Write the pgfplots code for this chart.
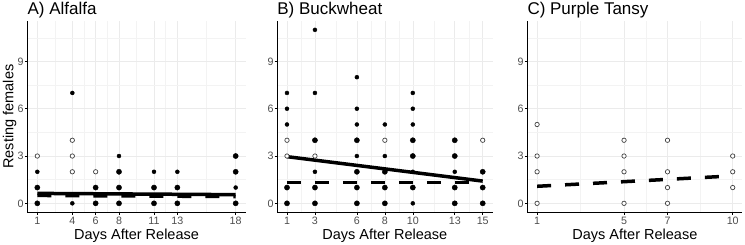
\documentclass[border=0pt]{standalone}
\usepackage{fontspec}
\setmainfont{Liberation Sans}
\usepackage{pgfplots}
\pgfplotsset{compat=1.18}
\definecolor{tickgray}{HTML}{4D4D4D}
\definecolor{gridmaj}{HTML}{EBEBEB}
\definecolor{gridmin}{HTML}{F3F3F3}
\pgfplotsset{
  panel/.style={
    scale only axis, height=190.8pt,
    ymin=-0.55, ymax=11.55,
    ytick={0,3,6,9}, minor ytick={1.5,4.5,7.5,10.5},
    axis x line*=bottom, axis y line*=left,
    axis line style={black, line width=0.8pt, -},
    grid=both,
    major grid style={gridmaj, line width=0.6pt},
    minor grid style={gridmin, line width=0.4pt},
    tick style={black, line width=0.6pt},
    major tick length=2.5pt, minor tick length=0pt,
    tick align=outside,
    tick label style={font=\fontsize{10.7}{12}\selectfont, text=tickgray, inner sep=1pt},
    xticklabel style={yshift=-1.2pt},
    /pgf/number format/assume math mode=true,
    clip=false,
  },
  fnorm/.style={only marks, mark=*, mark size=2pt, black, mark options={draw=black, fill=black}},
  fbold/.style={only marks, mark=*, mark size=2.6pt, black, mark options={draw=black, fill=black}},
  opn/.style={only marks, mark=*, mark size=2.2pt, mark options={draw=black!75, fill=white, line width=0.7pt}},
  solidfit/.style={black, line width=3.5pt, line cap=butt},
  dashfit/.style={black, line width=3.5pt, line cap=butt, dash pattern=on 14pt off 14pt},
}
\begin{document}
\begin{tikzpicture}
\useasboundingbox (0,0) rectangle (745pt,244pt);
% Panel A
\begin{axis}[panel, name=A, at={(27.4pt,32pt)}, anchor=south west, width=218.2pt,
  xmin=0.15, xmax=18.85, xtick={1,4,6,8,11,13,18}, minor xtick={2.5,5,7,9.5,12,15.5}]
\addplot[fnorm] coordinates {(1,2) (4,0) (4,7) (8,3) (11,2) (13,2) (18,1)};
\addplot[fbold] coordinates {(1,0) (1,1) (6,0) (6,1) (8,0) (8,1) (8,2) (11,0) (11,1) (13,0) (13,1) (18,0) (18,2) (18,3)};
\addplot[opn] coordinates {(1,3) (4,2) (4,3) (4,4) (6,2)};
\addplot[solidfit] coordinates {(1,0.63) (18,0.55)};
\addplot[dashfit] coordinates {(1,0.50) (18,0.43)};
\end{axis}
% Panel B
\begin{axis}[panel, name=B, at={(277.2pt,32pt)}, anchor=south west, width=215.3pt,
  xmin=0.3, xmax=15.7, xtick={1,3,6,8,10,13,15}, minor xtick={2,4.5,7,9,11.5,14}]
\addplot[fnorm] coordinates {(1,5) (1,6) (1,7) (3,2) (3,7) (3,11) (6,3) (6,5) (6,6) (6,8) (8,3) (8,5) (10,0) (10,2) (10,5) (10,6) (10,7) (13,2)};
\addplot[fbold] coordinates {(1,0) (1,1) (3,0) (3,1) (3,4) (6,0) (6,1) (6,2) (6,4) (8,0) (8,1) (8,2) (10,1) (10,3) (10,4) (13,0) (13,1) (13,3) (13,4) (15,0) (15,1) (15,2)};
\addplot[opn] coordinates {(1,3) (1,4) (3,3) (8,4) (15,4)};
\addplot[solidfit] coordinates {(1,2.96) (15,1.41)};
\addplot[dashfit] coordinates {(1,1.31) (15,1.31)};
\end{axis}
% Panel C
\begin{axis}[panel, name=C, at={(527.3pt,32pt)}, anchor=south west, width=215.2pt,
  xmin=0.55, xmax=10.45, xtick={1,5,7,10}, minor xtick={3,6,8.5}]
\addplot[opn] coordinates {(1,0) (1,2) (1,3) (1,5) (5,0) (5,2) (5,3) (5,4) (7,0) (7,1) (7,2) (7,4) (10,1) (10,2) (10,3)};
\addplot[dashfit] coordinates {(1,1.08) (10,1.74)};
\end{axis}
% Titles and labels
\foreach \n/\t in {A/{A) Alfalfa}, B/{B) Buckwheat}, C/{C) Purple Tansy}}{
  \node[anchor=base west, inner sep=0pt, font=\fontsize{17}{20}\selectfont] at ([yshift=6.8pt]\n.north west) {\t};
  \node[anchor=base, inner sep=0pt, font=\fontsize{14.5}{17}\selectfont] at ([yshift=-27.5pt]\n.south) {Days After Release};
}
\node[rotate=90, anchor=base, inner sep=0pt, font=\fontsize{14.5}{17}\selectfont] at ([xshift=-14pt]A.west) {Resting females};
\end{tikzpicture}
\end{document}
